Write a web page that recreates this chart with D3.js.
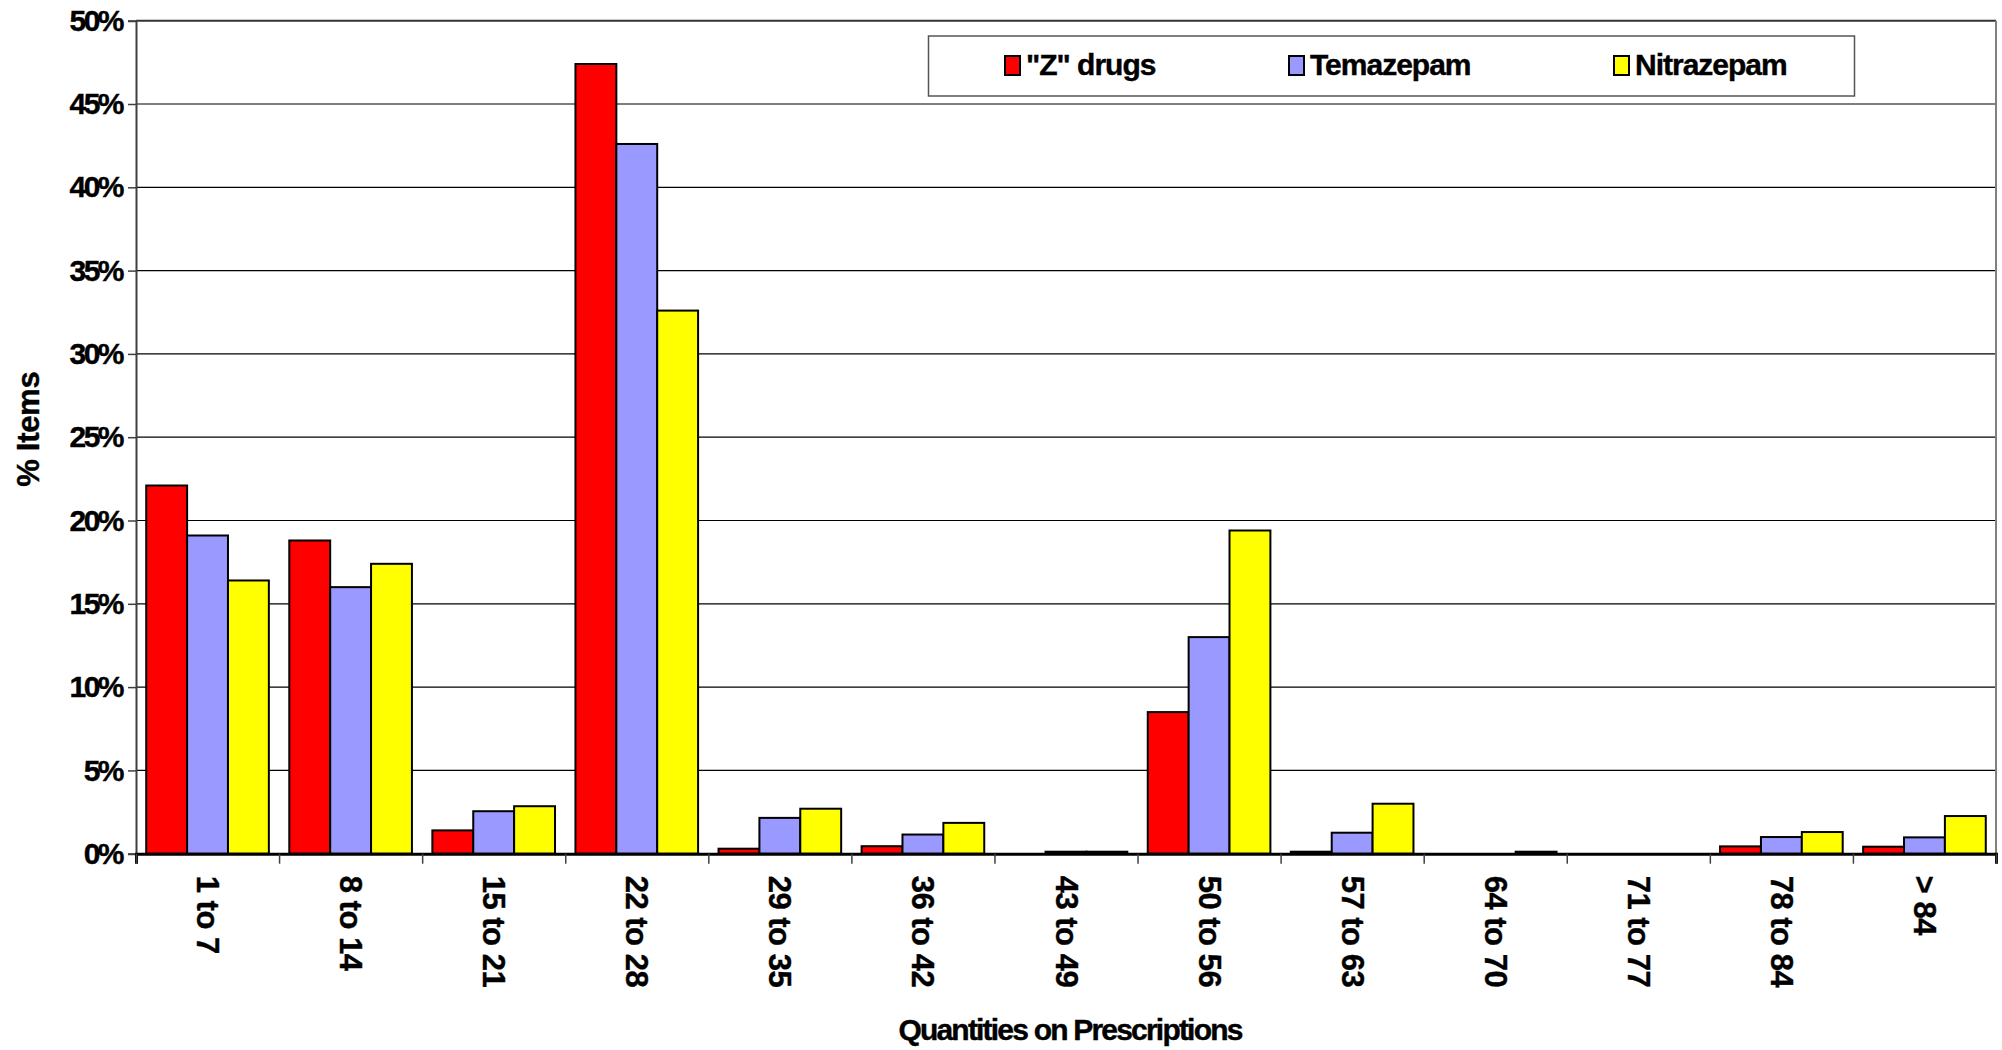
<!DOCTYPE html>
<html>
<head>
<meta charset="utf-8">
<script src="https://cdn.jsdelivr.net/npm/d3@7"></script>
<style>
  html, body { margin: 0; padding: 0; background: #fff; }
  svg { display: block; }
  text { font-family: "Liberation Sans", Arial, sans-serif; font-weight: bold; fill: #000; stroke: #000; stroke-width: 0.4px; }
</style>
</head>
<body>
<svg id="chart" width="2002" height="1050"></svg>
<script>
const categories = ["1 to 7", "8 to 14", "15 to 21", "22 to 28", "29 to 35", "36 to 42", "43 to 49",
                    "50 to 56", "57 to 63", "64 to 70", "71 to 77", "78 to 84", "> 84"];
const seriesNames = ["\"Z\" drugs", "Temazepam", "Nitrazepam"];
const seriesColors = ["#FF0000", "#9999FF", "#FFFF00"];
const zDrugs     = [22.1, 18.8, 1.4, 47.4, 0.3, 0.45, 0.0, 8.5, 0.12, 0.0, 0.0, 0.44, 0.42];
const temazepam  = [19.1, 16.0, 2.55, 42.6, 2.15, 1.15, 0.12, 13.0, 1.26, 0.0, 0.0, 1.0, 0.98];
const nitrazepam = [16.4, 17.4, 2.85, 32.6, 2.7, 1.85, 0.12, 19.4, 3.0, 0.12, 0.0, 1.3, 2.26];
const yTicks = [0, 5, 10, 15, 20, 25, 30, 35, 40, 45, 50];
const yTitle = "% Items";
const xTitle = "Quantities on Prescriptions";

const allSeries = [zDrugs, temazepam, nitrazepam];

const svg = d3.select("#chart");
const L = 136, R = 1996, T = 20.7, B = 853.7;

const x = d3.scaleBand().domain(categories).range([L, R]).padding(0);
const bw = x.bandwidth();
const off = bw * 0.25 / 3.5;
const x1 = d3.scaleBand().domain(seriesNames).range([off, bw - off]).padding(0);
const y = d3.scaleLinear().domain([0, 50]).range([B, T]);
const xIdx = d3.scaleLinear().domain([0, categories.length]).range([L, R]);

// gridlines
svg.append("g").selectAll("line").data(yTicks.filter(t => t > 0 && t < 50)).join("line")
  .attr("x1", L).attr("x2", R).attr("y1", d => y(d)).attr("y2", d => y(d))
  .attr("stroke", "#000").attr("stroke-width", 1.2);

// plot frame (top and right)
svg.append("line").attr("x1", L).attr("x2", R).attr("y1", y(50)).attr("y2", y(50))
  .attr("stroke", "#333").attr("stroke-width", 2);
svg.append("line").attr("x1", R).attr("x2", R).attr("y1", y(50)).attr("y2", y(0))
  .attr("stroke", "#808080").attr("stroke-width", 2);

// bars
const groups = svg.append("g").selectAll("g").data(categories).join("g")
  .attr("transform", d => `translate(${x(d)},0)`);
groups.selectAll("rect").data((c, i) => seriesNames.map((s, j) => ({ s, j, v: allSeries[j][i] })))
  .join("rect")
  .filter(d => d.v > 0)
  .attr("x", d => x1(d.s))
  .attr("width", x1.bandwidth())
  .attr("y", d => y(d.v))
  .attr("height", d => y(0) - y(d.v))
  .attr("fill", d => seriesColors[d.j])
  .attr("stroke", "#000").attr("stroke-width", 2);

// y axis
const yAxis = svg.append("g").attr("transform", `translate(${L},0)`)
  .call(d3.axisLeft(y).tickValues(yTicks).tickFormat(d => d + "%").tickSize(8).tickPadding(6));
yAxis.select(".domain").attr("stroke", "#404040").attr("stroke-width", 2);
yAxis.selectAll(".tick line").attr("stroke", "#404040").attr("stroke-width", 1.5);
yAxis.selectAll("text").style("font-size", "30px").style("letter-spacing", "-2.5px")
  .style("font-family", "'Liberation Sans', Arial, sans-serif").style("font-weight", "bold")
  .attr("fill", "#000").attr("stroke", "#000").attr("stroke-width", 0.4);

// x axis (ticks at category boundaries)
const xAxis = svg.append("g").attr("transform", `translate(0,${B})`)
  .call(d3.axisBottom(xIdx).tickValues(d3.range(categories.length + 1)).tickFormat("").tickSize(10));
xAxis.select(".domain").attr("stroke", "#000").attr("stroke-width", 3);
xAxis.selectAll(".tick line").attr("stroke", "#404040").attr("stroke-width", 1.5);

// x labels rotated
svg.append("g").selectAll("text").data(categories).join("text")
  .attr("transform", d => `translate(${x(d) + bw / 2},${B + 22}) rotate(90)`)
  .attr("text-anchor", "start").attr("dominant-baseline", "central")
  .style("font-size", "31px").style("letter-spacing", "-0.5px")
  .text(d => d);

// axis titles
svg.append("text").attr("transform", `translate(28,${(T + B) / 2 - 8}) rotate(-90)`)
  .attr("text-anchor", "middle").attr("dominant-baseline", "central")
  .style("font-size", "31px").style("letter-spacing", "-0.3px").text(yTitle);
svg.append("text").attr("x", 1070).attr("y", 1040)
  .attr("text-anchor", "middle")
  .style("font-size", "30px").style("letter-spacing", "-1.8px").text(xTitle);

// legend
const lg = svg.append("g");
lg.append("rect").attr("x", 928.5).attr("y", 36).attr("width", 926).attr("height", 60)
  .attr("fill", "#fff").attr("stroke", "#555").attr("stroke-width", 1.5);
const legX = [1005, 1289, 1614];
seriesNames.forEach((s, j) => {
  lg.append("rect").attr("x", legX[j]).attr("y", 56).attr("width", 15).attr("height", 19)
    .attr("fill", seriesColors[j]).attr("stroke", "#000").attr("stroke-width", 2);
  lg.append("text").attr("x", legX[j] + 21).attr("y", 64).attr("dominant-baseline", "central")
    .style("font-size", "30px").style("letter-spacing", "-1px").text(s);
});
</script>
</body>
</html>
